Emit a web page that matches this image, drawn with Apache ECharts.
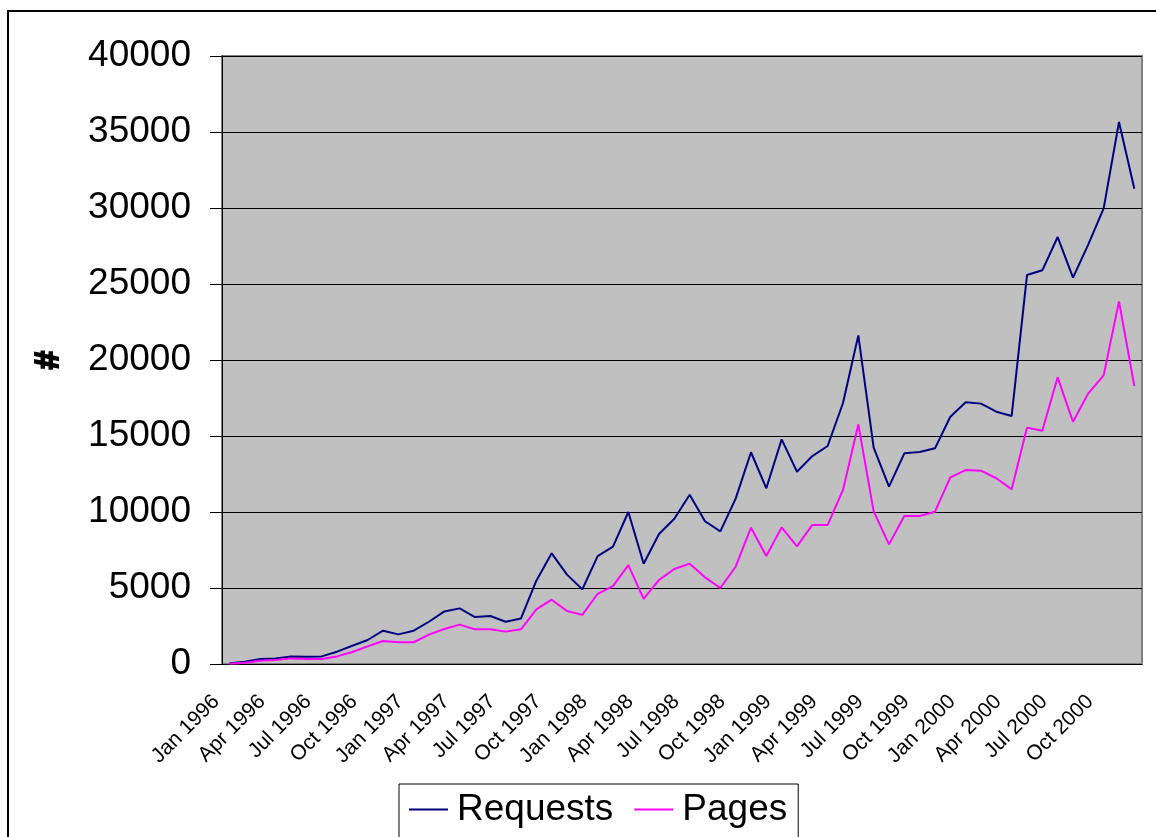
<!DOCTYPE html>
<html lang="en">
<head>
    <meta charset="UTF-8" />
    <title>Requests and Pages</title>
    <script src="https://cdn.jsdelivr.net/npm/echarts@6/dist/echarts.min.js"></script>
    <style>
        html, body { margin: 0; padding: 0; background: #fff; }
        #main { width: 1156px; height: 837px; }
    </style>
</head>
<body>
    <div id="main"></div>
    <script>
        // month names and years used to build the category axis
        const monthNames = ['Jan', 'Feb', 'Mar', 'Apr', 'May', 'Jun', 'Jul', 'Aug', 'Sep', 'Oct', 'Nov', 'Dec'];
        const years = [1996, 1997, 1998, 1999, 2000];

        // monthly values, Jan 1996 .. Dec 2000
        const requests = [
            50, 150, 330, 370, 500, 480, 500, 810, 1200, 1580, 2190, 1950,
            2190, 2780, 3460, 3660, 3090, 3160, 2780, 3000, 5480, 7280, 5880, 4910,
            7100, 7720, 10000, 6600, 8550, 9560, 11140, 9390, 8730, 10880, 13930, 11560,
            14780, 12650, 13680, 14340, 17170, 21620, 14240, 11670, 13860, 13950, 14190, 16270,
            17220, 17130, 16600, 16320, 25590, 25900, 28090, 25420, 27610, 29980, 35660, 31270
        ];
        const pages = [
            20, 80, 220, 260, 370, 330, 330, 500, 790, 1160, 1510, 1430,
            1430, 1930, 2300, 2590, 2280, 2280, 2130, 2280, 3600, 4230, 3490, 3230,
            4620, 5120, 6510, 4280, 5530, 6250, 6600, 5700, 5000, 6400, 8970, 7100,
            8990, 7740, 9150, 9150, 11450, 15760, 10040, 7870, 9740, 9740, 10020, 12280,
            12760, 12720, 12220, 11490, 15550, 15350, 18860, 15940, 17810, 18990, 23860, 18290
        ];

        let categories = [];
        years.forEach(function (y) {
            monthNames.forEach(function (m) {
                categories.push(m + ' ' + y);
            });
        });

        const font = "'Liberation Sans', Arial, sans-serif";

        var myChart = echarts.init(document.getElementById('main'));
        var option = {
            animation: false,
            backgroundColor: '#fff',
            textStyle: { fontFamily: font, color: '#000' },
            grid: {
                left: 222,
                right: 14,
                top: 56,
                bottom: 173,
                show: true,
                backgroundColor: '#C0C0C0',
                borderColor: '#808080',
                borderWidth: 2
            },
            legend: {
                left: 399,
                top: 784,
                orient: 'horizontal',
                padding: [7, 11, 10, 10],
                itemGap: 21,
                itemWidth: 39,
                itemHeight: 2,
                icon: 'rect',
                borderColor: '#000',
                borderWidth: 1,
                backgroundColor: '#fff',
                textStyle: {
                    fontFamily: font,
                    fontSize: 37,
                    color: '#000',
                    padding: [0, 0, 0, 4]
                },
                data: ['Requests', 'Pages']
            },
            xAxis: {
                type: 'category',
                data: categories,
                boundaryGap: true,
                axisLine: { lineStyle: { color: '#000', width: 1 } },
                axisTick: { interval: 0, length: 6, lineStyle: { color: '#000' } },
                axisLabel: {
                    interval: 2,
                    rotate: 45,
                    margin: 21,
                    fontFamily: font,
                    fontSize: 21,
                    color: '#000',
                    padding: [0, 19, 0, 0]
                },
                splitLine: { show: false }
            },
            yAxis: {
                type: 'value',
                min: 0,
                max: 40000,
                interval: 5000,
                axisLine: { show: true, lineStyle: { color: '#000', width: 1 } },
                axisTick: { show: true, length: 12, lineStyle: { color: '#000' } },
                axisLabel: {
                    margin: 31,
                    fontFamily: font,
                    fontSize: 37,
                    color: '#000',
                    formatter: function (v) { return String(v); }
                },
                splitLine: { show: true, lineStyle: { color: '#000', width: 1 } }
            },
            series: [
                {
                    name: 'Requests',
                    type: 'line',
                    data: requests,
                    symbol: 'none',
                    lineStyle: { color: '#000080', width: 2 },
                    itemStyle: { color: '#000080' }
                },
                {
                    name: 'Pages',
                    type: 'line',
                    data: pages,
                    symbol: 'none',
                    lineStyle: { color: '#FF00FF', width: 2 },
                    itemStyle: { color: '#FF00FF' }
                }
            ],
            graphic: {
                elements: [
                    {
                        type: 'rect',
                        shape: { x: 8, y: 11, width: 1200, height: 900 },
                        style: { fill: 'none', stroke: '#000', lineWidth: 2 },
                        silent: true,
                        z: -1
                    },
                    {
                        // y axis title, stroked to look bold
                        type: 'text',
                        x: 49,
                        y: 360,
                        rotation: Math.PI / 2,
                        style: {
                            text: '#',
                            fontFamily: 'Liberation Sans',
                            fontSize: 33,
                            fontWeight: 'bold',
                            fill: '#000',
                            stroke: '#000',
                            lineWidth: 2,
                            align: 'center',
                            verticalAlign: 'middle'
                        },
                        silent: true
                    }
                ]
            }
        };
        myChart.setOption(option);
    </script>
</body>
</html>
